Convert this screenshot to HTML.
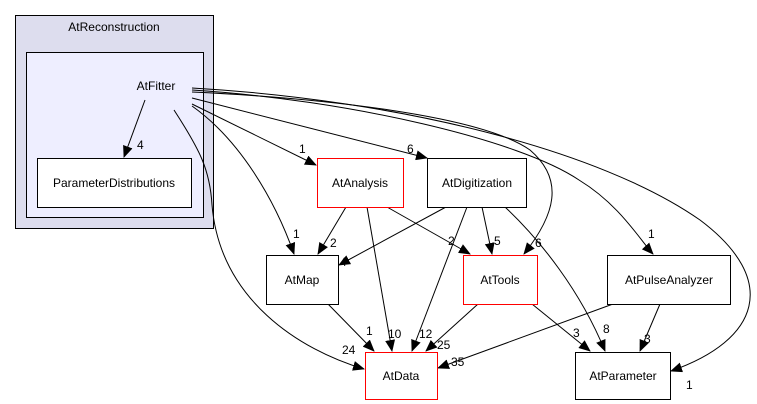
<!DOCTYPE html>
<html><head><style>body{margin:0;background:#fff}svg{display:block}text{font-family:"Liberation Sans",sans-serif;font-size:12px}.l{font-size:11px}</style></head><body>
<svg width="757" height="404" viewBox="0 0 757 404" xmlns="http://www.w3.org/2000/svg">
<defs><marker id="a" markerWidth="12" markerHeight="10" refX="11" refY="5" orient="auto" markerUnits="userSpaceOnUse"><path d="M0,0L12,5L0,10z" fill="#000"/></marker></defs>
<rect x="15.5" y="15.5" width="198" height="213" fill="#ddddee" stroke="#000"/>
<text x="114" y="31" text-anchor="middle">AtReconstruction</text>
<rect x="26.5" y="52.5" width="177" height="165" fill="#eeeeff" stroke="#000"/>
<text x="156" y="90" text-anchor="middle">AtFitter</text>
<rect x="37.5" y="158.5" width="154" height="49" fill="#fff" stroke="#000"/>
<text x="114" y="187" text-anchor="middle">ParameterDistributions</text>
<g fill="none" stroke="#000" marker-end="url(#a)">
<path d="M145,100L124,157"/>
<path d="M192,104L316,165"/>
<path d="M192,98L427,158"/>
<path d="M192,106C240,140 275,200 294,254"/>
<path d="M174,110C200,150 210,170 212,205C220,300 300,350 364,369"/>
<path d="M192,92C320,98 480,115 530,150C565,180 555,215 524,254"/>
<path d="M192,90C350,100 520,140 579,180C620,205 640,240 653,254"/>
<path d="M192,88C400,100 600,150 700,220C780,280 760,340 671,371"/>
<path d="M346,207L318,254"/>
<path d="M367,207L392,351"/>
<path d="M387,207L470,254"/>
<path d="M446,207L339,265"/>
<path d="M467,207L412,351"/>
<path d="M482,207L492,254"/>
<path d="M505,207C540,240 580,290 605,351"/>
<path d="M328,304L374,351"/>
<path d="M478,304L426,351"/>
<path d="M532,304L590,351"/>
<path d="M613,304L438,368"/>
<path d="M660,304L640,351"/>
</g>
<rect x="317.5" y="158.5" width="86" height="49" fill="#fff" stroke="#ff0000"/>
<rect x="427.5" y="158.5" width="99" height="49" fill="#fff" stroke="#000"/>
<rect x="266.5" y="255.5" width="72" height="49" fill="#fff" stroke="#000"/>
<rect x="463.5" y="255.5" width="74" height="49" fill="#fff" stroke="#ff0000"/>
<rect x="607.5" y="255.5" width="123" height="49" fill="#fff" stroke="#000"/>
<rect x="365.5" y="352.5" width="72" height="47" fill="#fff" stroke="#ff0000"/>
<rect x="575.5" y="352.5" width="95" height="47" fill="#fff" stroke="#000"/>
<g text-anchor="middle">
<text x="360" y="187">AtAnalysis</text>
<text x="477" y="187">AtDigitization</text>
<text x="302" y="284">AtMap</text>
<text x="500" y="284">AtTools</text>
<text x="669" y="284">AtPulseAnalyzer</text>
<text x="401" y="380">AtData</text>
<text x="623" y="380">AtParameter</text>
</g>
<g class="l">
<text x="137" y="149">4</text>
<text x="299" y="153">1</text>
<text x="407" y="153">6</text>
<text x="293" y="238">1</text>
<text x="342" y="354">24</text>
<text x="535" y="247">6</text>
<text x="648" y="238">1</text>
<text x="686" y="389">1</text>
<text x="330" y="247">2</text>
<text x="388" y="338">10</text>
<text x="448" y="245">2</text>
<text x="340" y="266">4</text>
<text x="419" y="338">12</text>
<text x="494" y="245">5</text>
<text x="603" y="333">8</text>
<text x="366" y="335">1</text>
<text x="437" y="349">25</text>
<text x="573" y="337">3</text>
<text x="451" y="366">35</text>
<text x="644" y="343">3</text>
</g>
</svg>
</body></html>
